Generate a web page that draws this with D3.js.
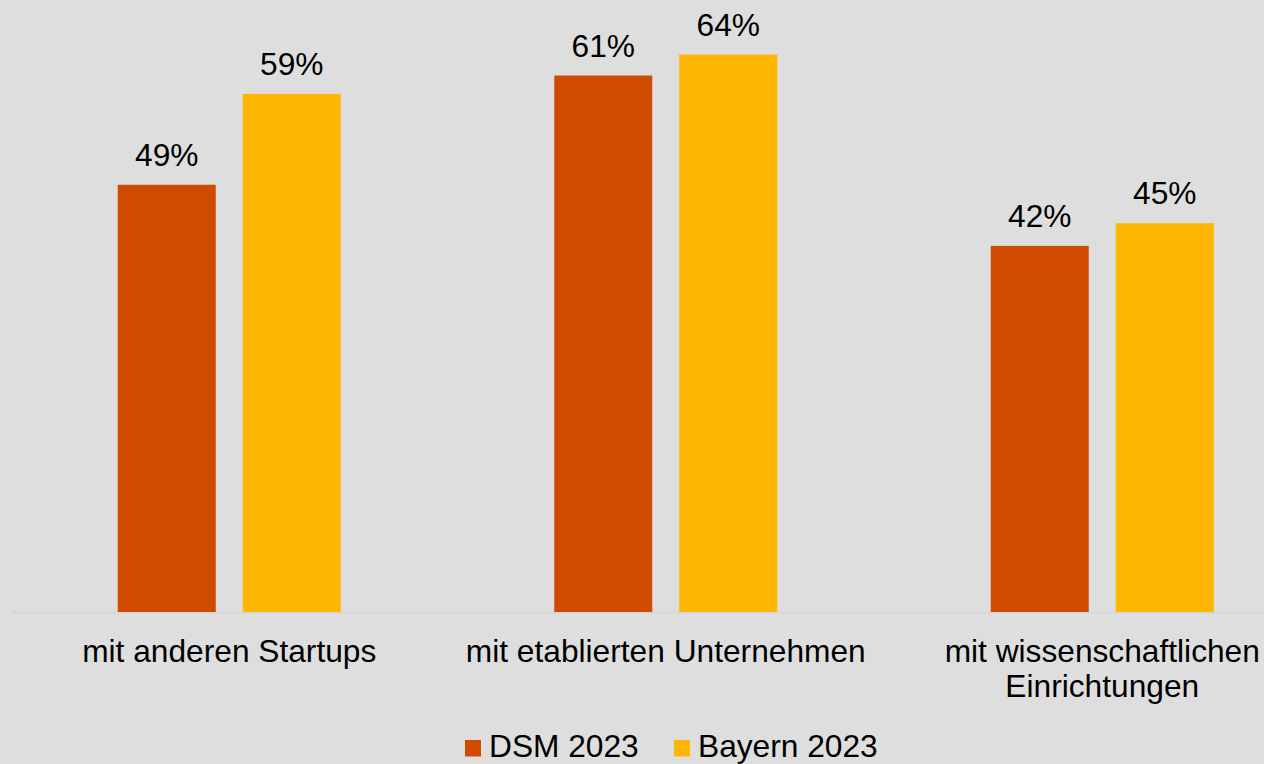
<!DOCTYPE html>
<html>
<head>
<meta charset="utf-8">
<script src="https://cdn.jsdelivr.net/npm/d3@7"></script>
<style>
  html, body { margin: 0; padding: 0; background: #dedede; }
  svg { display: block; font-family: "Liberation Sans", Arial, sans-serif; }
</style>
</head>
<body>
<svg id="chart" width="1264" height="764"></svg>
<script>
// data
var categories = ["mit anderen Startups", "mit etablierten Unternehmen", "mit wissenschaftlichen Einrichtungen"];
var seriesNames = ["DSM 2023", "Bayern 2023"];
var dsm2023 = [0.489, 0.614, 0.419];
var bayern2023 = [0.593, 0.638, 0.445];
var seriesColors = ["#d04a02", "#ffb600"];

var width = 1264, height = 764;
var baseY = 612;
var fontSize = 31.7;

var svg = d3.select("#chart");

// rows for grouped bars
var rows = categories.map(function (c, i) {
    return { cat: c, values: [dsm2023[i], bayern2023[i]] };
});

var x0 = d3.scaleBand()
    .domain(categories)
    .range([11, 11 + 3 * 436.5])
    .paddingInner(0)
    .paddingOuter(0);

var x1 = d3.scaleBand()
    .domain(seriesNames)
    .range([0, x0.bandwidth()])
    .paddingInner(0.216)
    .paddingOuter(0.854);

var y = d3.scaleLinear()
    .domain([0, 0.7])
    .range([baseY, 0.4]);

var color = d3.scaleOrdinal()
    .domain(seriesNames)
    .range(seriesColors);

var fmt = d3.format(".0%");

// baseline
svg.append("line")
    .attr("x1", x0.range()[0])
    .attr("x2", x0.range()[1])
    .attr("y1", baseY + 0.5)
    .attr("y2", baseY + 0.5)
    .attr("stroke", "#d4d4d4")
    .attr("stroke-width", 1.5);

var group = svg.append("g")
    .selectAll("g")
    .data(rows)
    .enter().append("g")
    .attr("transform", function (d) { return "translate(" + x0(d.cat) + ",0)"; });

var bars = group.selectAll("g")
    .data(function (d) {
        return seriesNames.map(function (s, j) { return { key: s, value: d.values[j] }; });
    })
    .enter().append("g");

bars.append("rect")
    .attr("x", function (d) { return x1(d.key); })
    .attr("y", function (d) { return y(d.value); })
    .attr("width", x1.bandwidth())
    .attr("height", function (d) { return baseY - y(d.value); })
    .attr("fill", function (d) { return color(d.key); });

bars.append("text")
    .text(function (d) { return fmt(d.value); })
    .attr("x", function (d) { return x1(d.key) + x1.bandwidth() / 2; })
    .attr("y", function (d) { return y(d.value) - 19; })
    .attr("text-anchor", "middle")
    .attr("font-size", fontSize)
    .attr("fill", "#000");

// category labels, wrapped when too wide
var maxW = 450;
var catLabels = svg.append("g")
    .selectAll("text")
    .data(categories)
    .enter().append("text")
    .attr("x", function (d) { return x0(d) + x0.bandwidth() / 2; })
    .attr("y", 662)
    .attr("text-anchor", "middle")
    .attr("font-size", fontSize)
    .attr("fill", "#000")
    .text(function (d) { return d; });

catLabels.each(function (d) {
    var t = d3.select(this);
    if (this.getComputedTextLength() < maxW) return;
    var words = d.split(" ");
    var cx = t.attr("x");
    t.text(null);
    var line = [], lines = [];
    var tspan = t.append("tspan").attr("x", cx);
    words.forEach(function (w) {
        line.push(w);
        tspan.text(line.join(" "));
        if (tspan.node().getComputedTextLength() > 340 && line.length > 1) {
            line.pop();
            lines.push(line.join(" "));
            line = [w];
        }
    });
    lines.push(line.join(" "));
    t.text(null);
    lines.forEach(function (l, k) {
        t.append("tspan").attr("x", cx).attr("dy", k == 0 ? 0 : 35).text(l);
    });
});

// legend
var legendX = [465, 674];
var legend = svg.append("g")
    .selectAll("g")
    .data(seriesNames)
    .enter().append("g")
    .attr("transform", function (d, i) { return "translate(" + legendX[i] + ",740)"; });

legend.append("rect")
    .attr("width", 16)
    .attr("height", 16.5)
    .attr("fill", function (d) { return color(d); });

legend.append("text")
    .attr("x", 24)
    .attr("y", 16.5)
    .attr("font-size", fontSize)
    .attr("fill", "#000")
    .text(function (d) { return d; });
</script>
</body>
</html>
